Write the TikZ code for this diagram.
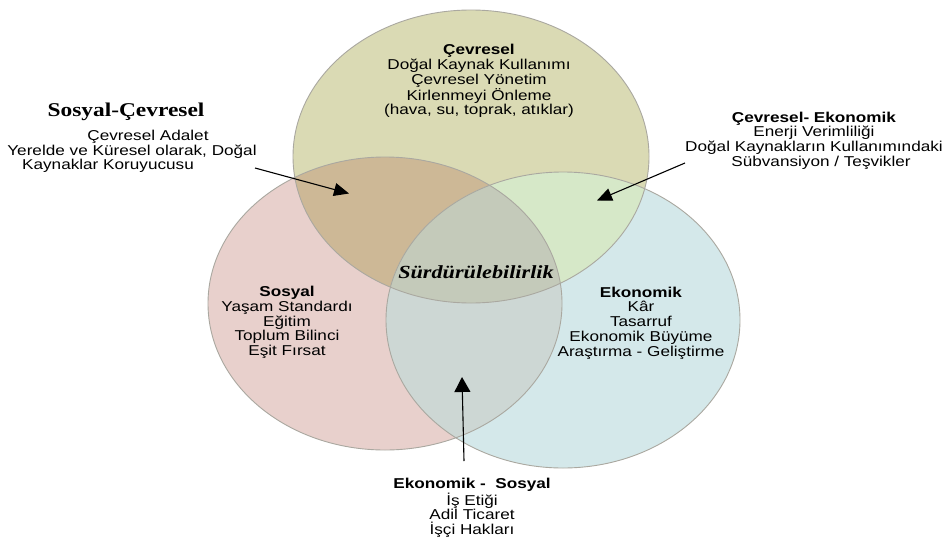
\documentclass[tikz,border=0pt]{standalone}
\usepackage{fontspec}
\setmainfont[FakeStretch=1.2]{Liberation Sans}
\newfontfamily\serifft[FakeStretch=1.2]{Liberation Serif}
\usetikzlibrary{arrows.meta}
\definecolor{cTop}{RGB}{218,218,180}
\definecolor{cLeft}{RGB}{232,208,204}
\definecolor{cRight}{RGB}{212,232,234}
\definecolor{cTL}{RGB}{205,184,150}
\definecolor{cTR}{RGB}{214,232,200}
\definecolor{cLR}{RGB}{205,215,212}
\definecolor{cAll}{RGB}{196,202,186}
\definecolor{cEdge}{RGB}{170,168,160}
\tikzset{
  txt/.style={align=center, inner sep=0pt, font=\fontsize{14.3}{14.7}\selectfont},
  ptr/.style={draw=black, line width=1.1pt, -{Triangle[length=15pt,width=13pt]}},
  ptrbig/.style={draw=black, line width=1.1pt, -{Triangle[length=15pt,width=16pt]}},
  edge/.style={draw=cEdge, line width=0.9pt}
}
\begin{document}
\begin{tikzpicture}[x=1pt,y=-1pt]
\useasboundingbox (0,0) rectangle (947,541);
\fill[white] (0,0) rectangle (947,541);
% base fills
\fill[cTop] (471,156.5) ellipse [x radius=178pt, y radius=146.5pt];
\fill[cLeft] (385,303.5) ellipse [x radius=177pt, y radius=146.5pt];
\fill[cRight] (563,320) ellipse [x radius=177pt, y radius=148pt];
% top & left
\begin{scope}
  \clip (471,156.5) ellipse [x radius=178pt, y radius=146.5pt];
  \fill[cTL] (385,303.5) ellipse [x radius=177pt, y radius=146.5pt];
\end{scope}
% top & right
\begin{scope}
  \clip (471,156.5) ellipse [x radius=178pt, y radius=146.5pt];
  \fill[cTR] (563,320) ellipse [x radius=177pt, y radius=148pt];
\end{scope}
% left & right
\begin{scope}
  \clip (385,303.5) ellipse [x radius=177pt, y radius=146.5pt];
  \fill[cLR] (563,320) ellipse [x radius=177pt, y radius=148pt];
\end{scope}
% all three
\begin{scope}
  \clip (471,156.5) ellipse [x radius=178pt, y radius=146.5pt];
  \clip (385,303.5) ellipse [x radius=177pt, y radius=146.5pt];
  \fill[cAll] (563,320) ellipse [x radius=177pt, y radius=148pt];
\end{scope}
% outlines
\path[edge] (471,156.5) ellipse [x radius=178pt, y radius=146.5pt];
\path[edge] (385,303.5) ellipse [x radius=177pt, y radius=146.5pt];
\path[edge] (563,320) ellipse [x radius=177pt, y radius=148pt];

% texts
\node[txt] (cev) at (479,81) {\textbf{Çevresel}\\Doğal Kaynak Kullanımı\\Çevresel Yönetim\\Kirlenmeyi Önleme\\(hava, su, toprak, atıklar)};
\node[inner sep=0pt, font=\serifft\bfseries\fontsize{19.5}{20}\selectfont] (sctitle) at (126,112) {Sosyal-Çevresel};
\node[txt] (scbody) at (132,151.5) {\hspace*{32pt}Çevresel Adalet\\Yerelde ve Küresel olarak, Doğal\\Kaynaklar Koruyucusu\hspace*{48pt}};
\node[txt] (cebody) at (814,140.5) {\textbf{Çevresel- Ekonomik}\\Enerji Verimliliği\\Doğal Kaynakların Kullanımındaki\\\hspace*{14pt}Sübvansiyon / Teşvikler};
\node[txt] (sos) at (287,322.5) {\textbf{Sosyal}\\Yaşam Standardı\\Eğitim\\Toplum Bilinci\\Eşit Fırsat};
\node[txt] (eko) at (641,323) {\textbf{Ekonomik}\\Kâr\\Tasarruf\\Ekonomik Büyüme\\Araştırma - Geliştirme};
\node[inner sep=0pt, font=\serifft\bfseries\itshape\fontsize{18.5}{20}\selectfont] (surd) at (476,272) {Sürdürülebilirlik};
\node[txt] (esbody) at (472,508) {\textbf{Ekonomik -\ \ Sosyal}\\İş Etiği\\Adil Ticaret\\İşçi Hakları};

% arrows
\coordinate (a1s) at (255,168);
\coordinate (a1e) at (349,193.5);
\coordinate (a2s) at (685,163);
\coordinate (a2e) at (597,200.5);
\coordinate (a3s) at (464,461);
\coordinate (a3e) at (462,377);
\draw[ptr] (a1s) -- (a1e);
\draw[ptr] (a2s) -- (a2e);
\draw[ptrbig] (a3s) -- (a3e);
\end{tikzpicture}
\end{document}
